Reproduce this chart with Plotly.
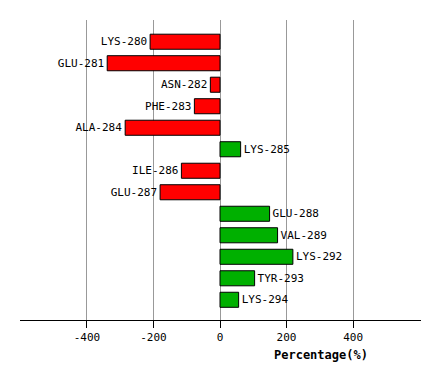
import plotly.graph_objects as go

residues = ["LYS-280", "GLU-281", "ASN-282", "PHE-283", "ALA-284", "LYS-285", "ILE-286",
            "GLU-287", "GLU-288", "VAL-289", "LYS-292", "TYR-293", "LYS-294"]
percentages = [-210, -339, -29, -77, -285, 62, -116, -180, 149, 173, 219, 104, 56]
tick_values = [-400, -200, 0, 200, 400]

colors = ["#FF0000" if v < 0 else "#00B000" for v in percentages]
positions = list(range(len(residues)))

fig = go.Figure(go.Bar(
    x=percentages, y=positions, orientation="h",
    marker=dict(color=colors, line=dict(color="#000000", width=1)),
    width=0.7,
    text=residues, textposition="outside", cliponaxis=False,
    constraintext="none",
    textfont=dict(family="DejaVu Sans Mono", size=11, color="#000000"),
))

fig.update_layout(
    width=440, height=380,
    margin=dict(l=12, r=27, t=12, b=68),
    plot_bgcolor="#FFFFFF", paper_bgcolor="#FFFFFF",
    showlegend=False,
    xaxis=dict(range=[-601, 604], tickvals=tick_values, ticktext=[str(v) for v in tick_values],
               showgrid=True, gridcolor="#999999", gridwidth=1, zeroline=False,
               showline=True, linecolor="#000000", linewidth=1,
               ticks="outside", ticklen=7, tickcolor="#000000",
               tickfont=dict(family="DejaVu Sans Mono", size=11, color="#000000")),
    yaxis=dict(range=[12.94, -1.01], showticklabels=False, showgrid=False,
               zeroline=False, showline=False, ticks=""),
    annotations=[dict(text="<b>Percentage(%)</b>", xref="paper", yref="paper",
                      x=(321 - 20) / 401, y=-0.117, xanchor="center", yanchor="middle",
                      showarrow=False,
                      font=dict(family="DejaVu Sans Mono", size=12, color="#000000"))],
)

fig.write_html("out.html")
